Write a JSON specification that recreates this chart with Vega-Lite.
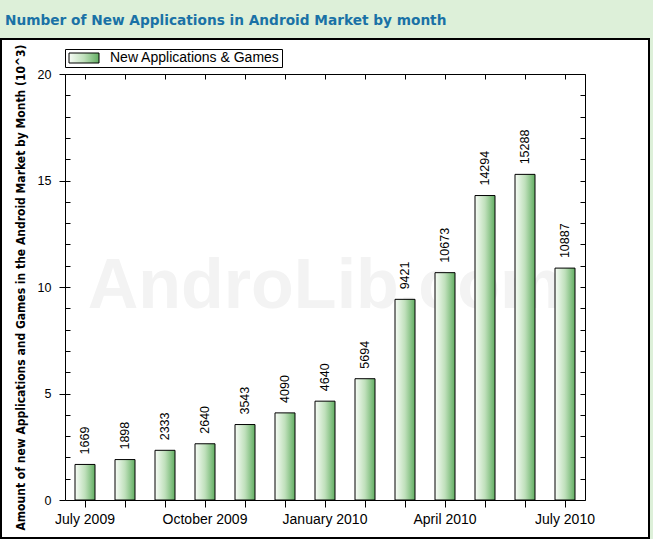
{
  "$schema": "https://vega.github.io/schema/vega-lite/v6.json",
  "autosize": "none",
  "width": 648,
  "height": 499,
  "padding": {"left": 1, "top": 39, "right": 4, "bottom": 1},
  "background": "#ddf0d9",
  "title": {
    "text": "Number of New Applications in Android Market by month",
    "anchor": "start",
    "frame": "group",
    "font": "DejaVu Sans",
    "fontSize": 13.7,
    "fontWeight": "bold",
    "color": "#1a72a6",
    "dx": 4,
    "offset": 11
  },
  "datasets": {
    "apps": [
      {"month": "July 2009", "count": 1669, "k": 1.669, "series": "New Applications & Games"},
      {"month": "August 2009", "count": 1898, "k": 1.898, "series": "New Applications & Games"},
      {"month": "September 2009", "count": 2333, "k": 2.333, "series": "New Applications & Games"},
      {"month": "October 2009", "count": 2640, "k": 2.64, "series": "New Applications & Games"},
      {"month": "November 2009", "count": 3543, "k": 3.543, "series": "New Applications & Games"},
      {"month": "December 2009", "count": 4090, "k": 4.09, "series": "New Applications & Games"},
      {"month": "January 2010", "count": 4640, "k": 4.64, "series": "New Applications & Games"},
      {"month": "February 2010", "count": 5694, "k": 5.694, "series": "New Applications & Games"},
      {"month": "March 2010", "count": 9421, "k": 9.421, "series": "New Applications & Games"},
      {"month": "April 2010", "count": 10673, "k": 10.673, "series": "New Applications & Games"},
      {"month": "May 2010", "count": 14294, "k": 14.294, "series": "New Applications & Games"},
      {"month": "June 2010", "count": 15288, "k": 15.288, "series": "New Applications & Games"},
      {"month": "July 2010", "count": 10887, "k": 10.887, "series": "New Applications & Games"}
    ],
    "wm": [
      {"month": "January 2010", "k": 10, "text": "AndroLib.com"}
    ]
  },
  "layer": [
    {
      "data": {"name": "wm"},
      "mark": {"type": "text", "font": "Liberation Sans", "fontWeight": "bold", "fontSize": 70, "color": "#f3f3f3", "align": "center", "baseline": "middle"},
      "encoding": {
        "x": {
          "field": "month", "type": "nominal",
          "scale": {
            "domain": ["July 2009", "August 2009", "September 2009", "October 2009", "November 2009", "December 2009", "January 2010", "February 2010", "March 2010", "April 2010", "May 2010", "June 2010", "July 2010"],
            "range": [64, 584], "paddingInner": 0.5, "paddingOuter": 0.25
          },
          "axis": {
            "orient": "bottom", "offset": -38, "title": null, "tickSize": 7, "labelPadding": 5,
            "labelAngle": 0, "labelOverlap": false, "labelFont": "Liberation Sans", "labelFontSize": 14, "labelColor": "#000000",
            "labelExpr": "indexof(['July 2009','October 2009','January 2010','April 2010','July 2010'], datum.value) >= 0 ? datum.label : ''"
          }
        },
        "y": {
          "field": "k", "type": "quantitative",
          "scale": {"domain": [0, 20], "range": [461, 35], "nice": false, "zero": true},
          "axis": {
            "orient": "left", "offset": -64, "values": [0, 5, 10, 15, 20], "tickSize": 6, "labelPadding": 8,
            "labelFont": "Liberation Sans", "labelFontSize": 12.5, "labelColor": "#000000",
            "title": "Amount of new Applications and Games in the Android Market by Month (10^3)",
            "titleFont": "DejaVu Sans Condensed, DejaVu Sans", "titleFontSize": 12, "titleFontWeight": "bold", "titleColor": "#000000", "titlePadding": 10
          }
        },
        "text": {"field": "text", "type": "nominal"}
      }
    },
    {
      "data": {"name": "apps"},
      "mark": {
        "type": "bar", "strokeWidth": 1,
        "fill": {"gradient": "linear", "x1": 0, "y1": 0, "x2": 1, "y2": 0,
          "stops": [{"offset": 0, "color": "#f7fcf6"}, {"offset": 0.5, "color": "#bfe0bb"}, {"offset": 1, "color": "#62ae62"}]}
      },
      "encoding": {
        "x": {"field": "month", "type": "nominal",
          "axis": {"orient": "bottom", "offset": -38, "title": null, "labels": false, "domain": false, "tickSize": -7}},
        "y": {"field": "k", "type": "quantitative",
          "axis": {"orient": "left", "offset": -64, "title": null, "labels": false, "domain": false, "tickSize": -5,
            "values": [0, 1, 2, 3, 4, 5, 6, 7, 8, 9, 10, 11, 12, 13, 14, 15, 16, 17, 18, 19, 20]}},
        "stroke": {
          "field": "series", "type": "nominal",
          "scale": {"range": ["#000000"]},
          "legend": {
            "orient": "none", "legendX": 64, "legendY": 10, "title": null,
            "strokeColor": "#000000", "fillColor": "#ffffff", "padding": 2,
            "labelFont": "Liberation Sans", "labelFontSize": 14, "labelColor": "#000000", "labelOffset": 29, "labelLimit": 400,
            "symbolType": "M-1,-1H5V1H-1Z", "symbolSize": 100, "symbolStrokeWidth": 1,
            "encode": {"symbols": {"update": {"fill": {"value": {"gradient": "linear", "x1": 0, "y1": 0, "x2": 1, "y2": 0,
              "stops": [{"offset": 0, "color": "#f7fcf6"}, {"offset": 1, "color": "#62ae62"}]}}, "stroke": {"value": "#000000"}}}}
          }
        }
      }
    },
    {
      "data": {"name": "apps"},
      "mark": {"type": "text", "angle": 270, "align": "left", "baseline": "middle", "dx": 10, "font": "Liberation Sans", "fontSize": 12.5, "color": "#000000"},
      "encoding": {
        "x": {"field": "month", "type": "nominal",
          "axis": {"orient": "top", "offset": -35, "title": null, "labels": false, "tickSize": -5}},
        "y": {"field": "k", "type": "quantitative",
          "axis": {"orient": "right", "offset": -64, "title": null, "labels": false, "tickSize": -5,
            "values": [0, 1, 2, 3, 4, 5, 6, 7, 8, 9, 10, 11, 12, 13, 14, 15, 16, 17, 18, 19, 20]}},
        "text": {"field": "count", "type": "quantitative", "format": "d"}
      }
    }
  ],
  "resolve": {"axis": {"x": "independent", "y": "independent"}},
  "config": {
    "view": {"fill": "#ffffff", "stroke": "#000000", "strokeWidth": 2},
    "axis": {"grid": false, "domainColor": "#000000", "tickColor": "#000000", "domainWidth": 1, "tickWidth": 1, "zindex": 1}
  }
}
